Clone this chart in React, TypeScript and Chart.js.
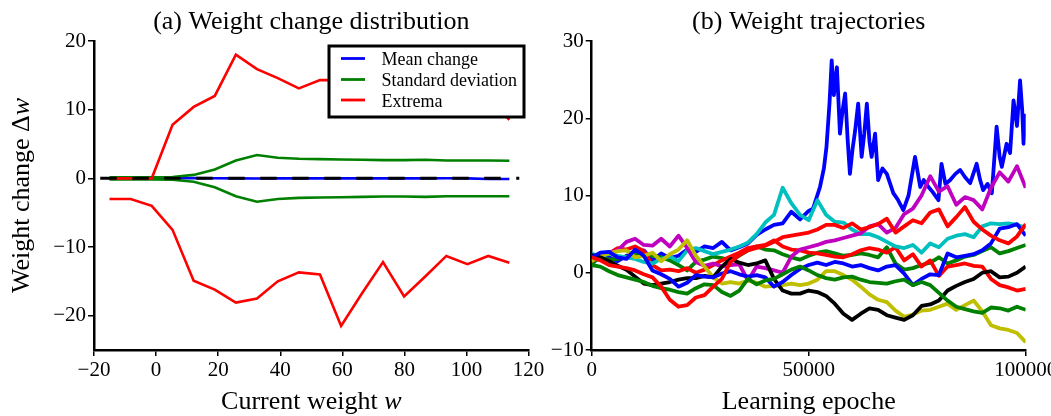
import React, { useEffect, useRef } from "react";
import { Chart, registerables } from "chart.js";

Chart.register(...registerables);

const FONT = "'Liberation Serif', 'Times New Roman', serif";

// ---------- (a) Weight change distribution ----------
const weightBins = [-15, -8.2, -1.4, 5.3, 12.1, 18.9, 25.7, 32.5, 39.2, 46.0, 52.8, 59.6, 66.4, 73.1, 79.9, 86.7, 93.5, 100.3, 107.0, 113.8];
const meanChange = [0, 0, 0, 0.02, 0.03, 0.02, 0, -0.02, 0, 0, 0, 0, 0, 0, 0, 0, 0.02, 0, -0.1, -0.1];
const stdUpper = [0.15, 0.15, 0.15, 0.2, 0.5, 1.3, 2.6, 3.4, 3.0, 2.85, 2.8, 2.75, 2.7, 2.65, 2.65, 2.7, 2.6, 2.6, 2.6, 2.55];
const stdLower = [-0.15, -0.15, -0.15, -0.2, -0.5, -1.3, -2.6, -3.4, -3.0, -2.85, -2.8, -2.75, -2.7, -2.65, -2.65, -2.7, -2.6, -2.6, -2.6, -2.6];
const extremaUpper = [0, 0, 0, 7.8, 10.4, 12.0, 18.0, 15.9, 14.6, 13.1, 14.3, 14.3, 15.5, 13.5, 16.0, 14.0, 15.5, 13.0, 12.0, 8.5];
const extremaLower = [-3.0, -3.0, -4.0, -7.5, -14.9, -16.2, -18.1, -17.5, -15.0, -13.7, -14.0, -21.5, -16.7, -12.2, -17.2, -14.3, -11.3, -12.5, -11.3, -12.3];
const zeroLineX = [-18, 117];
const zeroLineY = [0, 0];
const leftYTicks = [-20, -10, 0, 10, 20];
const legendLabels = ["Mean change", "Standard deviation", "Extrema"];
const legendColors = ["#0000ff", "#008000", "#ff0000"];

// ---------- (b) Weight trajectories ----------
const epochs = [0, 2000, 4000, 6000, 8000, 10000, 12000, 14000, 16000, 18000, 20000, 22000, 24000, 26000, 28000, 30000, 32000, 34000, 36000, 38000, 40000, 42000, 44000, 46000, 48000, 50000, 52000, 54000, 56000, 58000, 60000, 62000, 64000, 66000, 68000, 70000, 72000, 74000, 76000, 78000, 80000, 82000, 84000, 86000, 88000, 90000, 92000, 94000, 96000, 98000, 100000];
const blue1Epochs = [0, 2000, 4000, 6000, 8000, 10000, 12000, 14000, 16000, 18000, 20000, 22000, 24000, 26000, 28000, 30000, 32000, 34000, 36000, 38000, 40000, 42000, 44000, 46000, 48000, 50000, 51000, 52600, 53500, 54100, 54800, 55300, 55800, 56500, 57200, 57800, 58400, 59000, 59500, 60100, 60700, 61400, 62200, 62800, 63400, 64000, 64500, 65300, 66000, 67000, 68000, 69500, 70500, 71800, 73000, 74500, 75700, 76500, 77600, 78500, 79900, 80600, 81500, 82600, 83800, 84900, 86000, 87200, 88700, 89500, 90200, 91200, 92200, 93300, 94000, 94500, 95600, 96400, 97200, 98000, 98700, 99200, 99500, 100000];
const trajBlue1 = [1.0, 2.5, 2.0, 1.5, 2.2, 2.6, 2.9, 1.6, 2.5, 1.9, 2.2, 3.0, 2.7, 3.4, 3.2, 4.0, 2.9, 3.3, 3.8, 4.9, 5.6, 6.2, 6.4, 7.9, 6.9, 8.0, 8.3, 11.1, 13.5, 16.3, 22, 27.5, 23, 26.6, 18.0, 21, 23.2, 17, 12.8, 16, 18.4, 21.9, 15.0, 18, 21.9, 17, 15.0, 18.0, 12.0, 13.5, 12.8, 10.3, 9.5, 8.1, 10, 15.0, 11.1, 12, 11.1, 10.5, 9.4, 14.1, 11.5, 12.0, 12.8, 13.3, 12.4, 11.6, 14.1, 12, 10.7, 11.5, 10.3, 18.9, 15, 13.7, 16.7, 15.5, 22.3, 19, 24.9, 21, 16.7, 20.6];
const trajGreen1 = [1.2, 2.0, 1.7, 1.8, 2.1, 2.3, 2.5, 2.2, 2.0, 1.6, 1.0, 0.3, 1.4, 1.7, 2.1, 1.9, 1.6, 2.2, 2.9, 3.4, 3.0, 2.9, 2.4, 2.0, 1.7, 2.2, 2.6, 2.8, 2.5, 2.2, 2.3, 2.5, 2.3, 2.0, 3.3, 1.2, 0.4, 0.6, 1.0, 1.3, 2.0, 1.2, 1.6, 2.1, 2.3, 2.8, 3.3, 2.5, 2.8, 3.2, 3.6];
const trajRed1 = [1.5, 2.2, 2.5, 3.2, 3.0, 3.4, 2.8, 1.0, 0.3, 0.4, 0.2, 0.6, 0.0, 0.4, 1.0, 1.6, 2.1, 2.6, 3.2, 3.4, 3.6, 4.2, 3.4, 3.0, 2.9, 2.6, 2.5, 2.3, 2.1, 2.0, 2.4, 2.9, 3.2, 3.0, 2.6, 3.3, 1.6, 2.4, 0.8, 1.6, -0.4, 0.8, 1.0, 1.2, 0.9, 0.8, -0.8, -1.6, -1.9, -2.3, -2.1];
const trajCyan = [2.5, 2.0, 2.5, 2.2, 2.0, 1.8, 1.4, 1.2, 1.8, 2.1, 1.5, 2.9, 3.2, 2.8, 2.4, 2.7, 3.0, 3.4, 3.9, 5.0, 6.5, 7.5, 11.0, 9.0, 7.5, 6.8, 9.4, 7.5, 6.6, 6.5, 5.6, 5.0, 5.0, 4.6, 4.0, 3.4, 3.2, 3.6, 2.6, 3.8, 3.3, 4.4, 4.8, 5.0, 4.6, 6.0, 6.4, 6.3, 6.4, 6.2, 5.8];
const trajMagenta = [2.0, 2.2, 2.6, 2.9, 4.0, 4.4, 3.6, 3.5, 4.4, 3.4, 4.8, 3.2, 1.4, 0.9, 1.2, 0.8, 1.0, 1.1, -1.0, 0.8, 0.6, 0.3, 0.0, 2.1, 3.0, 3.3, 3.6, 4.0, 4.2, 4.5, 4.8, 5.1, 6.0, 6.3, 5.2, 5.8, 7.6, 8.3, 10.0, 12.5, 10.5, 11.2, 8.8, 9.8, 9.4, 8.2, 11.0, 13.0, 11.8, 13.8, 11.0];
const trajYellow = [1.5, 2.2, 2.5, 2.8, 2.9, 2.0, 2.2, 2.6, 1.5, 2.4, 3.0, 4.2, 2.2, 0.8, -0.6, -1.4, -1.2, -1.4, -1.0, -1.3, -1.8, -1.7, -1.6, -1.4, -1.6, -1.4, -0.9, 0.2, 0.2, -0.3, -0.9, -1.8, -2.8, -3.5, -3.8, -4.9, -5.7, -5.4, -4.9, -4.8, -4.4, -4.0, -4.8, -4.2, -3.6, -5.0, -6.8, -7.2, -7.4, -7.8, -9.0];
const trajBlack = [2.3, 2.0, 1.5, 0.9, 0.4, -0.5, -1.4, -1.6, -1.4, -1.2, -0.9, -0.7, -0.7, -0.4, -0.6, 0.8, 1.8, 1.3, 1.0, 1.2, 1.6, -0.8, -2.3, -2.7, -2.7, -2.3, -2.5, -3.0, -4.0, -5.3, -6.1, -5.3, -4.6, -4.8, -5.5, -5.8, -6.1, -5.5, -4.3, -4.1, -3.6, -2.3, -1.7, -1.2, -0.8, 0.0, 0.2, -0.6, -0.5, 0.0, 0.8];
const trajBlue2 = [2.0, 2.6, 2.7, 2.0, 1.8, 3.0, 2.2, 0.3, -0.2, -0.8, -1.8, -1.3, -0.3, -0.5, -0.6, -0.1, 0.2, -0.2, -0.5, -0.3, -0.6, -1.8, -1.2, -0.3, 0.5, 1.0, 1.3, 1.0, 1.4, 1.2, 0.8, 1.0, 0.6, 0.3, 0.8, 1.0, -0.1, -1.6, -0.8, -0.2, -0.3, 2.5, 2.0, 2.2, 2.4, 2.9, 3.8, 5.7, 5.9, 6.3, 4.8];
const trajGreen2 = [1.0, 0.8, 0.2, -0.3, -0.6, -0.9, -1.2, -1.7, -2.0, -2.2, -2.5, -2.7, -2.0, -1.5, -1.6, -2.5, -3.0, -2.3, -0.8, -1.5, -1.0, -0.8, -0.2, 0.4, 0.8, 0.3, -0.3, -0.7, -0.9, -0.6, -0.5, -0.9, -1.2, -1.3, -1.4, -1.1, -0.9, -1.6, -1.2, -1.6, -2.6, -3.6, -4.4, -4.7, -5.0, -5.2, -4.5, -4.6, -4.9, -4.4, -4.8];
const trajRed2 = [2.0, 1.6, 1.0, 0.8, 0.6, 0.3, -0.2, -0.6, -1.8, -3.5, -4.4, -4.2, -3.2, -2.9, -1.8, -0.8, 1.4, 2.3, 2.9, 3.2, 3.5, 4.0, 4.6, 4.8, 5.0, 5.2, 5.6, 6.2, 6.2, 5.8, 6.4, 5.6, 5.9, 6.3, 7.0, 5.2, 6.0, 6.8, 6.4, 7.8, 8.2, 6.0, 7.2, 8.5, 6.6, 5.6, 4.8, 4.2, 3.8, 4.7, 6.3];

const trajectories = [
  { xs: blue1Epochs, ys: trajBlue1, color: "#0000ff" },
  { xs: epochs, ys: trajGreen1, color: "#008000" },
  { xs: epochs, ys: trajRed1, color: "#ff0000" },
  { xs: epochs, ys: trajCyan, color: "#00bfbf" },
  { xs: epochs, ys: trajMagenta, color: "#bf00bf" },
  { xs: epochs, ys: trajYellow, color: "#bfbf00" },
  { xs: epochs, ys: trajBlack, color: "#000000" },
  { xs: epochs, ys: trajBlue2, color: "#0000ff" },
  { xs: epochs, ys: trajGreen2, color: "#008000" },
  { xs: epochs, ys: trajRed2, color: "#ff0000" },
];

type Seg = { text: string; italic?: boolean };

const fmtTick = (v: any) => {
  const n = Number(v);
  return n < 0 ? "\u2212" + Math.abs(n) : String(n);
};

function drawSegs(ctx: CanvasRenderingContext2D, segs: Seg[], cx: number, baseline: number, size: number) {
  const fonts = segs.map((s) => `${s.italic ? "italic " : ""}${size}px ${FONT}`);
  let total = 0;
  const widths = segs.map((s, i) => {
    ctx.font = fonts[i];
    const w = ctx.measureText(s.text).width;
    total += w;
    return w;
  });
  let x = cx - total / 2;
  ctx.textAlign = "left";
  ctx.textBaseline = "alphabetic";
  ctx.fillStyle = "#000";
  segs.forEach((s, i) => {
    ctx.font = fonts[i];
    ctx.fillText(s.text, x, baseline);
    x += widths[i];
  });
}

type PanelCfg = { title: Seg[]; xTitle: Seg[]; yTitle?: Seg[]; legend?: boolean };

const makeTextPlugin = (cfg: PanelCfg) => ({
  id: "panelText",
  afterDraw(chart: any) {
    const { ctx, chartArea } = chart;
    const cx = (chartArea.left + chartArea.right) / 2;
    const cy = (chartArea.top + chartArea.bottom) / 2;
    ctx.save();
    drawSegs(ctx, cfg.title, cx, 28.5, 26);
    drawSegs(ctx, cfg.xTitle, cx, 409, 26);
    if (cfg.yTitle) {
      ctx.save();
      ctx.translate(29, cy);
      ctx.rotate(-Math.PI / 2);
      drawSegs(ctx, cfg.yTitle, 0, 0, 26);
      ctx.restore();
    }
    if (cfg.legend) {
      const bx = 329, by = 46, bw = 195, bh = 71;
      ctx.fillStyle = "#fff";
      ctx.fillRect(bx, by, bw, bh);
      ctx.strokeStyle = "#000";
      ctx.lineWidth = 3;
      ctx.strokeRect(bx, by, bw, bh);
      const baselines = [65, 86, 106.5];
      legendLabels.forEach((lab, i) => {
        const y = baselines[i];
        ctx.strokeStyle = legendColors[i];
        ctx.lineWidth = 2.8;
        ctx.beginPath();
        ctx.moveTo(341, y - 6.5);
        ctx.lineTo(365, y - 6.5);
        ctx.stroke();
        ctx.fillStyle = "#000";
        ctx.font = `18px ${FONT}`;
        ctx.textAlign = "left";
        ctx.textBaseline = "alphabetic";
        ctx.fillText(lab, 381.5, y);
      });
    }
    ctx.restore();
  },
});

const axisBase = (min: number, max: number) => ({
  type: "linear" as const,
  min,
  max,
  ticks: {
    color: "#000",
    font: { family: FONT, size: 21 },
    padding: 2,
    autoSkip: false,
    maxRotation: 0,
    callback: fmtTick,
  },
  grid: {
    display: true,
    drawOnChartArea: false,
    drawTicks: true,
    tickLength: 6,
    tickWidth: 1.5,
    tickColor: "#000",
    color: "#000",
    lineWidth: 1.5,
  },
  border: { display: true, color: "#000", width: 2.5 },
});

const toPoints = (xs: number[], ys: number[]) => xs.map((x, i) => ({ x, y: ys[i] }));

function leftConfig(): any {
  const line = (ys: number[], color: string, order: number) => ({
    data: toPoints(weightBins, ys),
    borderColor: color,
    borderWidth: 2.6,
    pointRadius: 0,
    tension: 0,
    fill: false,
    order,
  });
  const xAxis: any = axisBase(-20, 120);
  xAxis.ticks.stepSize = 20;
  xAxis.afterFit = (s: any) => { s.height = 66; };
  const yAxis: any = axisBase(-25, 20);
  yAxis.afterBuildTicks = (axis: any) => { axis.ticks = leftYTicks.map((v) => ({ value: v })); };
  yAxis.afterFit = (s: any) => { s.width = 94; };
  return {
    type: "line",
    data: {
      datasets: [
        line(meanChange, "#0000ff", 6),
        line(stdUpper, "#008000", 5),
        line(stdLower, "#008000", 4),
        line(extremaUpper, "#ff0000", 3),
        line(extremaLower, "#ff0000", 2),
        {
          data: toPoints(zeroLineX, zeroLineY),
          borderColor: "#000",
          borderWidth: 3,
          borderDash: [16.5, 15.5],
          pointRadius: 0,
          fill: false,
          order: 1,
        },
      ],
    },
    options: {
      animation: false,
      responsive: false,
      layout: { padding: { left: 0, top: 41, right: 550 - 528.6, bottom: 0 } },
      plugins: { legend: { display: false }, tooltip: { enabled: false }, title: { display: false } },
      scales: { x: xAxis, y: yAxis },
    },
    plugins: [
      makeTextPlugin({
        title: [{ text: "(a) Weight change distribution" }],
        xTitle: [{ text: "Current weight " }, { text: "w", italic: true }],
        yTitle: [{ text: "Weight change \u0394" }, { text: "w", italic: true }],
        legend: true,
      }),
    ],
  };
}

function rightConfig(): any {
  const n = trajectories.length;
  const xAxis: any = axisBase(0, 100000);
  xAxis.ticks.stepSize = 50000;
  xAxis.afterFit = (s: any) => { s.height = 66; };
  const yAxis: any = axisBase(-10, 30);
  yAxis.ticks.stepSize = 10;
  yAxis.afterFit = (s: any) => { s.width = 51.7; };
  return {
    type: "line",
    data: {
      datasets: trajectories.map((t, i) => ({
        data: toPoints(t.xs, t.ys),
        borderColor: t.color,
        borderWidth: 3.8,
        borderJoinStyle: "round",
        pointRadius: 0,
        tension: 0,
        fill: false,
        order: n - i,
      })),
    },
    options: {
      animation: false,
      responsive: false,
      layout: { padding: { left: 0, top: 41, right: 560 - 485.7, bottom: 0 } },
      plugins: { legend: { display: false }, tooltip: { enabled: false }, title: { display: false } },
      scales: { x: xAxis, y: yAxis },
    },
    plugins: [
      makeTextPlugin({
        title: [{ text: "(b) Weight trajectories" }],
        xTitle: [{ text: "Learning epoche" }],
      }),
    ],
  };
}

function ChartCanvas({ makeConfig, left, width }: { makeConfig: () => any; left: number; width: number }) {
  const ref = useRef<HTMLCanvasElement>(null);
  useEffect(() => {
    if (!ref.current) return;
    const chart = new Chart(ref.current, makeConfig());
    return () => chart.destroy();
  }, []);
  return (
    <canvas
      ref={ref}
      width={width}
      height={416}
      style={{ position: "absolute", left, top: 0, width, height: 416 }}
    />
  );
}

export default function App() {
  return (
    <div
      style={{
        position: "absolute",
        left: 0,
        top: 0,
        width: 1051,
        height: 416,
        overflow: "hidden",
        background: "#fff",
      }}
    >
      <ChartCanvas makeConfig={leftConfig} left={0} width={550} />
      <ChartCanvas makeConfig={rightConfig} left={540} width={560} />
    </div>
  );
}
